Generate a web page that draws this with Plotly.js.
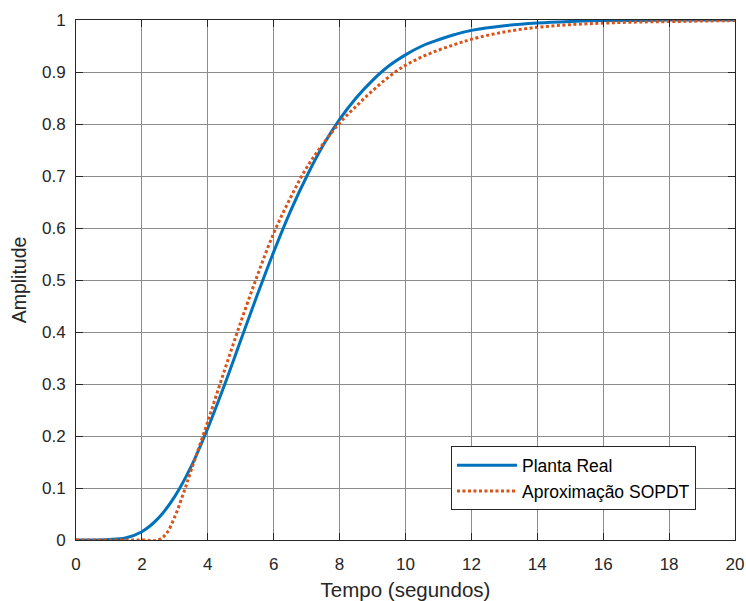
<!DOCTYPE html>
<html>
<head>
<meta charset="utf-8">
<script src="https://cdn.plot.ly/plotly-3.0.1.min.js"></script>
<style>
html,body{margin:0;padding:0;background:#fff;}
#chart{width:746px;height:601px;}
</style>
</head>
<body>
<div id="chart"></div>
<script>
// Planta Real
const tempoReal = [0,0.5,1,1.5,2,2.5,3,3.5,4,4.5,5,5.5,6,6.5,7,7.5,8,8.5,9,9.5,10,10.5,11,11.5,12,13,14,15,16,17,18,19,20];
const ampReal   = [0,0.000,0.001,0.004,0.016,0.042,0.084,0.142,0.215,0.297,0.384,0.471,0.554,0.631,0.699,0.759,0.809,0.850,0.884,0.912,0.933,0.950,0.962,0.972,0.980,0.989,0.994,0.997,0.999,0.999,1.0,1.0,1.0];
// Aproximação SOPDT
const tempoSopdt = [0,1,2,2.5,2.75,3,3.25,3.5,4,4.5,5,5.5,6,6.5,7,7.5,8,8.5,9,9.5,10,10.5,11,11.5,12,13,14,15,16,17,18,19,20];
const ampSopdt   = [0,0,0,0,0.013,0.045,0.088,0.135,0.228,0.325,0.419,0.508,0.590,0.657,0.716,0.762,0.802,0.834,0.864,0.891,0.913,0.929,0.942,0.953,0.963,0.977,0.986,0.991,0.994,0.996,0.997,0.998,0.999];

const seriesNames = ['Planta Real', 'Aproximação SOPDT'];
const xTicks = [0,2,4,6,8,10,12,14,16,18,20];
const yTicks = [0,0.1,0.2,0.3,0.4,0.5,0.6,0.7,0.8,0.9,1];
const yTickText = ['0','0.1','0.2','0.3','0.4','0.5','0.6','0.7','0.8','0.9','1'];

const font = 'Liberation Sans, Arial, Helvetica, sans-serif';

const traces = [
  {x: tempoReal, y: ampReal, name: seriesNames[0], type: 'scatter', mode: 'lines',
   line: {color: '#0072BD', width: 3, shape: 'spline', smoothing: 1}},
  {x: tempoSopdt, y: ampSopdt, name: seriesNames[1], type: 'scatter', mode: 'lines',
   line: {color: '#D95319', width: 3, dash: '3px,2.5px', shape: 'spline', smoothing: 1}}
];

const axisCommon = {
  showline: true, mirror: 'ticks', linecolor: '#262626', linewidth: 1,
  ticks: 'inside', ticklen: 7, tickwidth: 1, tickcolor: '#262626',
  showgrid: true, gridcolor: '#8c8c8c', gridwidth: 1, zeroline: false,
  tickfont: {family: font, size: 17, color: '#262626'}
};

const layout = {
  width: 746, height: 601,
  margin: {l: 76, r: 11, t: 20, b: 61, pad: 0},
  paper_bgcolor: '#ffffff', plot_bgcolor: '#ffffff',
  showlegend: true,
  xaxis: Object.assign({}, axisCommon, {
    range: [0, 20], tickvals: xTicks, ticktext: xTicks.map(String),
    ticklabelstandoff: 9,
    title: {text: 'Tempo (segundos)', font: {family: font, size: 20.5, color: '#262626'}, standoff: 9}
  }),
  yaxis: Object.assign({}, axisCommon, {
    range: [0, 1], tickvals: yTicks, ticktext: yTickText,
    ticklabelstandoff: 6,
    title: {text: 'Amplitude', font: {family: font, size: 19.5, color: '#262626'}, standoff: 10}
  }),
  legend: {
    x: 0.569, y: 0.18, xanchor: 'left', yanchor: 'top',
    bgcolor: '#ffffff', bordercolor: '#262626', borderwidth: 1,
    font: {family: font, size: 17.5, color: '#000000'},
    itemwidth: 60,
    tracegroupgap: 0
  }
};

Plotly.newPlot('chart', traces, layout, {staticPlot: true, displayModeBar: false});
</script>
</body>
</html>
